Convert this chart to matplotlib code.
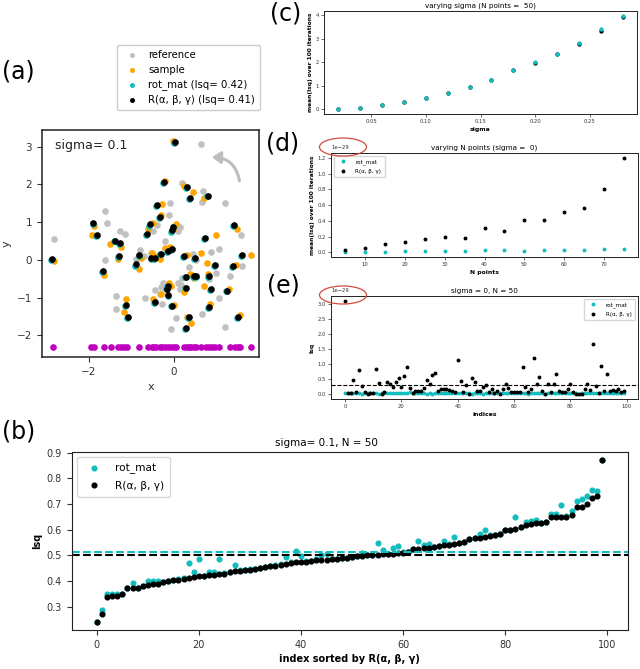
import numpy as np
import matplotlib
matplotlib.use("Agg")
import matplotlib.pyplot as plt
from matplotlib.patches import Ellipse, FancyArrowPatch

# ---------------- panel (a): point clouds ----------------
ref_x = [-2.81, -1.63, -1.58, -1.63, -1.26, -1.15, -1.37, -1.37, -0.90, -0.79,
         -0.68, -0.49, -0.39, -0.10, -0.12, 0.10, 0.15, 0.19, 0.64, 0.69,
         0.67, 1.19, 1.57, 0.87, 1.60, 1.33, 0.99, 0.83, 0.18, 0.16,
         -0.30, -0.25, -0.32, -0.29, 0.15, 1.07, 0.05, -0.06, 0.67, 1.19,
         0.52, -0.55, 0.45, -0.05, 0.10, -0.20, 1.05, 0.35, -0.70, -0.45]
ref_y = [0.55, 1.30, 0.99, 0.00, 0.77, 0.68, -0.95, -1.29, 0.03, 0.26,
         -1.00, 0.77, 0.93, 1.51, 1.19, 0.77, 0.86, 2.05, 3.06, 1.83,
         1.54, 1.50, 0.66, 0.20, -0.15, -0.42, -0.34, -0.50, -0.49, -0.67,
         -0.72, -0.61, -0.89, -1.17, -0.77, -1.02, -1.55, -1.82, -1.42, -1.78,
         0.00, 0.18, 0.15, 0.30, -0.60, 0.50, 0.30, -0.20, 0.10, -0.80]

sample_x = [-2.82, -1.88, -1.93, -1.65, -1.50, -1.24, -1.32, -1.13, -1.17, -0.81,
            -0.78, -0.62, -0.49, -0.52, -0.40, -0.50, -0.28, -0.30, -0.33, -0.21,
            -0.20, 0.00, -0.08, 0.04, -0.07, -0.12, -0.30, 0.00, -0.03, 0.30,
            0.38, 0.23, 0.23, 0.45, 0.42, 0.47, 0.64, 0.30, 0.40, 0.98,
            0.70, 0.81, 0.71, 0.84, 0.78, 1.30, 1.46, 1.48, 1.82, 1.55]
sample_y = [-0.04, 0.91, 0.66, -0.41, 0.41, 0.35, 0.03, -1.04, -1.39, -0.23,
            0.04, 0.82, 0.97, 0.19, 0.10, -1.04, 1.48, 1.19, 0.03, 2.08,
            0.32, 0.85, 0.33, 0.94, -0.69, -0.62, -0.91, -1.19, 3.15, 0.14,
            -0.38, -0.84, 1.97, 1.80, -0.39, -0.48, 0.19, -1.52, -1.67, 0.66,
            1.65, -0.36, -0.69, -1.18, -0.09, -0.78, -0.14, 0.83, 0.12, -1.47]

rotmat_x = [-2.88, -1.91, -1.82, -1.68, -1.41, -1.28, -1.31, -1.15, -1.10, -0.91,
            -0.83, -0.65, -0.59, -0.55, -0.46, -0.47, -0.41, -0.35, -0.32, -0.25,
            -0.16, -0.07, -0.06, -0.03, -0.16, -0.18, -0.15, -0.06, 0.01, 0.22,
            0.26, 0.27, 0.29, 0.35, 0.46, 0.51, 0.48, 0.33, 0.26, 0.71,
            0.78, 0.81, 0.86, 0.81, 0.95, 1.22, 1.36, 1.40, 1.58, 1.48]
rotmat_y = [0.00, 0.94, 0.64, -0.33, 0.49, 0.42, 0.08, -1.22, -1.55, -0.15,
            0.10, 0.66, 0.91, 0.03, 0.03, -1.13, 1.44, 1.10, 0.15, 2.04,
            0.21, 0.75, 0.27, 0.86, -0.71, -0.78, -0.96, -1.23, 3.10, 0.08,
            -0.46, -0.75, 1.91, 1.62, -0.45, -0.45, 0.03, -1.54, -1.83, 0.55,
            1.68, -0.45, -0.80, -1.27, -0.16, -0.83, -0.19, 0.90, 0.10, -1.55]

euler_x = [-2.865, -1.897, -1.80, -1.66, -1.39, -1.26, -1.29, -1.135, -1.08, -0.89,
           -0.81, -0.63, -0.57, -0.53, -0.44, -0.45, -0.39, -0.33, -0.30, -0.23,
           -0.14, -0.055, -0.04, -0.016, -0.14, -0.16, -0.13, -0.04, 0.03, 0.24,
           0.28, 0.29, 0.31, 0.37, 0.48, 0.53, 0.50, 0.35, 0.28, 0.73,
           0.80, 0.83, 0.88, 0.83, 0.97, 1.24, 1.38, 1.42, 1.60, 1.50]
euler_y = [0.03, 0.97, 0.67, -0.30, 0.51, 0.45, 0.11, -1.19, -1.52, -0.12,
           0.12, 0.69, 0.94, 0.05, 0.05, -1.11, 1.46, 1.13, 0.17, 2.06,
           0.23, 0.78, 0.29, 0.88, -0.69, -0.76, -0.94, -1.21, 3.12, 0.10,
           -0.44, -0.73, 1.93, 1.65, -0.43, -0.43, 0.05, -1.52, -1.81, 0.57,
           1.70, -0.43, -0.78, -1.25, -0.14, -0.81, -0.17, 0.93, 0.12, -1.52]

proj_x = [-2.83, -1.94, -1.88, -1.64, -1.49, -1.32, -1.25, -1.18, -1.10, -0.82,
          -0.60, -0.52, -0.47, -0.43, -0.32, -0.27, -0.21, -0.13, -0.06, 0.00,
          0.05, 0.24, 0.30, 0.35, 0.41, 0.48, 0.52, 0.64, 0.76, 0.83,
          0.89, 0.96, 1.06, 1.32, 1.44, 1.50, 1.56, 1.82]
PROJ_Y = -2.3
SIGMA_A = 0.1
LSQ_ROT_A = 0.42
LSQ_EUL_A = 0.41

# ---------------- panel (b): sorted lsq, sigma=0.1 ----------------
b_euler = [0.240, 0.271, 0.337, 0.340, 0.341, 0.348, 0.371, 0.371, 0.371, 0.379,
           0.383, 0.387, 0.387, 0.395, 0.400, 0.402, 0.405, 0.408, 0.411, 0.417,
           0.419, 0.420, 0.422, 0.424, 0.426, 0.428, 0.435, 0.439, 0.440, 0.441,
           0.444, 0.446, 0.449, 0.455, 0.458, 0.460, 0.464, 0.468, 0.471, 0.472,
           0.474, 0.475, 0.477, 0.480, 0.481, 0.483, 0.484, 0.485, 0.488, 0.489,
           0.494, 0.497, 0.498, 0.500, 0.502, 0.503, 0.505, 0.506, 0.507, 0.510,
           0.511, 0.512, 0.523, 0.525, 0.528, 0.530, 0.533, 0.536, 0.540, 0.542,
           0.546, 0.549, 0.551, 0.564, 0.566, 0.568, 0.573, 0.577, 0.579, 0.582,
           0.598, 0.599, 0.602, 0.611, 0.619, 0.623, 0.625, 0.627, 0.629, 0.650,
           0.650, 0.650, 0.651, 0.656, 0.689, 0.689, 0.700, 0.722, 0.730, 0.873]
b_rot = [0.241, 0.288, 0.348, 0.347, 0.349, 0.349, 0.371, 0.393, 0.372, 0.380,
         0.400, 0.398, 0.400, 0.396, 0.401, 0.403, 0.406, 0.410, 0.471, 0.433,
         0.485, 0.421, 0.436, 0.436, 0.484, 0.429, 0.436, 0.462, 0.441, 0.442,
         0.445, 0.447, 0.450, 0.456, 0.459, 0.461, 0.465, 0.492, 0.472, 0.518,
         0.496, 0.476, 0.478, 0.485, 0.503, 0.507, 0.485, 0.486, 0.489, 0.490,
         0.495, 0.498, 0.511, 0.501, 0.503, 0.549, 0.520, 0.507, 0.530, 0.536,
         0.514, 0.513, 0.524, 0.554, 0.540, 0.545, 0.534, 0.537, 0.554, 0.543,
         0.571, 0.550, 0.552, 0.565, 0.567, 0.582, 0.600, 0.578, 0.580, 0.583,
         0.599, 0.600, 0.650, 0.612, 0.629, 0.633, 0.638, 0.628, 0.630, 0.660,
         0.661, 0.695, 0.652, 0.675, 0.711, 0.718, 0.733, 0.756, 0.751, 0.873]
B_ROT_MEAN = 0.512
B_EUL_MEAN = 0.500

# ---------------- panel (c): varying sigma ----------------
c_sigma = [0.02, 0.04, 0.06, 0.08, 0.10, 0.12, 0.14, 0.16, 0.18, 0.20, 0.22, 0.24, 0.26, 0.28]
c_rot = [0.00, 0.07, 0.17, 0.30, 0.48, 0.71, 0.94, 1.26, 1.66, 1.99, 2.36, 2.81, 3.39, 3.97]
c_euler = [0.00, 0.07, 0.17, 0.30, 0.48, 0.71, 0.94, 1.25, 1.65, 1.97, 2.33, 2.77, 3.32, 3.90]

# ---------------- panel (d): varying N points (x 1e-29) ----------------
d_npts = [5, 10, 15, 20, 25, 30, 35, 40, 45, 50, 55, 60, 65, 70, 75]
d_rot = [0.000, 0.004, 0.009, 0.013, 0.017, 0.017, 0.020, 0.026, 0.026, 0.022,
         0.030, 0.034, 0.034, 0.039, 0.039]
d_euler = [0.034, 0.056, 0.099, 0.129, 0.171, 0.193, 0.176, 0.304, 0.270, 0.410,
           0.410, 0.514, 0.561, 0.800, 1.204]

# ---------------- panel (e): sigma=0, N=50 (x 1e-29) ----------------
e_rot = [0.05, 0.03, 0.04, 0.05, 0.03, 0.04, 0.02, 0.03, 0.04, 0.05,
         0.04, 0.03, 0.02, 0.04, 0.05, 0.06, 0.04, 0.03, 0.05, 0.04,
         0.06, 0.05, 0.04, 0.07, 0.05, 0.04, 0.03, 0.04, 0.03, 0.02,
         0.03, 0.02, 0.03, 0.04, 0.05, 0.06, 0.05, 0.04, 0.03, 0.05,
         0.04, 0.06, 0.05, 0.04, 0.03, 0.02, 0.04, 0.05, 0.03, 0.02,
         0.04, 0.03, 0.05, 0.06, 0.04, 0.03, 0.05, 0.04, 0.06, 0.05,
         0.04, 0.03, 0.05, 0.04, 0.03, 0.02, 0.04, 0.05, 0.06, 0.04,
         0.03, 0.02, 0.03, 0.05, 0.04, 0.06, 0.05, 0.04, 0.03, 0.04,
         0.05, 0.04, 0.03, 0.02, 0.04, 0.05, 0.03, 0.04, 0.05, 0.03,
         0.04, 0.06, 0.05, 0.04, 0.03, 0.05, 0.04, 0.03, 0.05, 0.04]
e_euler = [3.10, 0.03, 0.03, 0.49, 0.09, 0.80, 0.27, 0.08, 0.02, 0.03,
           0.03, 0.85, 0.38, 0.01, 0.09, 0.42, 0.35, 0.25, 0.41, 0.55,
           0.23, 0.60, 0.92, 0.21, 0.06, 0.11, 0.11, 0.11, 0.21, 0.47,
           0.34, 0.65, 0.69, 0.12, 0.19, 0.18, 0.16, 0.13, 0.12, 0.08,
           1.12, 0.44, 0.08, 0.30, 0.02, 0.53, 0.42, 0.12, 0.10, 0.23,
           0.31, 0.08, 0.18, 0.04, 0.11, 0.00, 0.16, 0.33, 0.20, 0.09,
           0.08, 0.08, 0.08, 0.92, 0.25, 0.07, 0.19, 1.20, 0.34, 0.56,
           0.11, 0.01, 0.35, 0.07, 0.35, 0.66, 0.12, 0.08, 0.07, 0.18,
           0.33, 0.08, 0.02, 0.02, 0.01, 0.19, 0.33, 0.14, 1.68, 0.28,
           0.03, 0.95, 0.11, 0.68, 0.10, 0.13, 0.10, 0.17, 0.07, 0.11]
E_EUL_MEAN = 0.31
SCALE = 1e-29

CYAN = "#13bdbd"
W, H = 640, 669

fig = plt.figure(figsize=(6.4, 6.69), dpi=100)


def px_axes(left, top, right, bottom):
    return fig.add_axes([left / W, 1 - bottom / H, (right - left) / W, (bottom - top) / H])


def small_style(ax):
    ax.tick_params(labelsize=3.8, length=2, width=0.5, pad=1.5, colors="#333333")
    for s in ax.spines.values():
        s.set_linewidth(0.7)
        s.set_color("#222222")


# ---- (a) ----
ax_a = px_axes(42, 130, 259, 357)
ms_a = 23
ax_a.scatter(ref_x, ref_y, s=ms_a, c="#c0c0c0", lw=0, label="reference")
ax_a.scatter(sample_x, sample_y, s=ms_a, c="orange", lw=0, label="sample")
ax_a.scatter(rotmat_x, rotmat_y, s=ms_a, c=CYAN, lw=0, label="rot_mat (lsq= %.2f)" % LSQ_ROT_A)
ax_a.scatter(euler_x, euler_y, s=ms_a, c="k", lw=0, label="R(α, β, γ) (lsq= %.2f)" % LSQ_EUL_A)
ax_a.scatter(proj_x, [PROJ_Y] * len(proj_x), s=ms_a, c="m", lw=0)
ax_a.set_xlim(-3.1, 2.0)
ax_a.set_ylim(-2.57, 3.44)
ax_a.set_xticks([-2, 0])
ax_a.set_yticks([-2, -1, 0, 1, 2, 3])
ax_a.tick_params(labelsize=7.5, colors="#333333", length=3.5)
for s in ax_a.spines.values():
    s.set_linewidth(1.1)
    s.set_color("#222222")
ax_a.set_xlabel("x", fontsize=8, color="#333333")
ax_a.set_ylabel("y", fontsize=8, color="#333333")
ax_a.text(0.06, 0.93, "sigma= %g" % SIGMA_A, transform=ax_a.transAxes, fontsize=9,
          va="center", color="#222222")
arrow = FancyArrowPatch((1.55, 2.02), (0.83, 2.72), connectionstyle="arc3,rad=0.45",
                        arrowstyle="-|>,head_length=5,head_width=3.5", color="#bdbdbd", lw=2.2)
ax_a.add_patch(arrow)
fig.legend(*ax_a.get_legend_handles_labels(), loc="upper left",
           bbox_to_anchor=(117 / W, 1 - 45 / H), borderaxespad=0, fontsize=7.3,
           markerscale=0.75, handletextpad=0.6, borderpad=0.5, labelspacing=0.45,
           framealpha=1, edgecolor="#cccccc", fancybox=True)

# ---- (b) ----
ax_b = px_axes(71.5, 451.7, 627.5, 630)
idx_b = np.arange(len(b_euler))
ax_b.plot(idx_b, b_rot, "o", color=CYAN, ms=3.4, label="rot_mat")
ax_b.plot(idx_b, b_euler, "o", color="k", ms=3.4, label="R(α, β, γ)")
ax_b.axhline(B_ROT_MEAN, color=CYAN, ls="--", lw=1.5)
ax_b.axhline(B_EUL_MEAN, color="k", ls="--", lw=1.5)
ax_b.set_xticks([0, 20, 40, 60, 80, 100])
ax_b.set_yticks([0.3, 0.4, 0.5, 0.6, 0.7, 0.8, 0.9])
ax_b.tick_params(labelsize=7, colors="#333333")
ax_b.set_title("sigma= 0.1, N = 50", fontsize=7.5, pad=4, x=0.458)
ax_b.set_xlabel("index sorted by R(α, β, γ)", fontsize=7, fontweight="bold", labelpad=3)
ax_b.set_ylabel("lsq", fontsize=7, fontweight="bold", labelpad=3)
ax_b.legend(loc="upper left", fontsize=7.6, markerscale=1.0, handletextpad=1.0,
            borderpad=0.6, labelspacing=0.6, edgecolor="#cccccc")
for s in ax_b.spines.values():
    s.set_color("#222222")

# ---- (c) ----
ax_c = px_axes(324, 11, 637, 114)
ax_c.plot(c_sigma, c_euler, "o", color="k", ms=2.1)
ax_c.plot(c_sigma, c_rot, "o", color=CYAN, ms=2.1)
ax_c.set_xticks([0.05, 0.10, 0.15, 0.20, 0.25])
ax_c.set_yticks([0, 1, 2, 3, 4])
small_style(ax_c)
ax_c.set_title("varying sigma (N points =  50)", fontsize=5.2, pad=2.5)
ax_c.set_xlabel("sigma", fontsize=4.4, fontweight="bold", labelpad=2)
ax_c.set_ylabel("mean(lsq) over 100 iterations", fontsize=4.2, fontweight="bold", labelpad=2)

# ---- (d) ----
ax_d = px_axes(331, 153, 638, 257)
ax_d.plot(d_npts, np.array(d_rot) * SCALE, "o", color=CYAN, ms=1.8, label="rot_mat")
ax_d.plot(d_npts, np.array(d_euler) * SCALE, "o", color="k", ms=1.8, label="R(α, β, γ)")
ax_d.set_xticks([10, 20, 30, 40, 50, 60, 70])
ax_d.set_yticks(np.array([0.0, 0.2, 0.4, 0.6, 0.8, 1.0, 1.2]) * SCALE)
small_style(ax_d)
ax_d.yaxis.get_offset_text().set_fontsize(3.8)
ax_d.set_title("varying N points (sigma =  0)", fontsize=5.2, pad=2.5)
ax_d.set_xlabel("N points", fontsize=4.4, fontweight="bold", labelpad=2)
ax_d.set_ylabel("mean(lsq) over 100 iterations", fontsize=4.2, fontweight="bold", labelpad=2)
ax_d.legend(loc="upper left", fontsize=4.1, markerscale=1.0, handletextpad=1.2,
            borderpad=0.6, labelspacing=0.7, edgecolor="#cccccc")

# ---- (e) ----
ax_e = px_axes(331, 296, 638, 399)
idx_e = np.arange(len(e_euler))
ax_e.plot(idx_e, np.array(e_rot) * SCALE, "o", color=CYAN, ms=1.8, label="rot_mat")
ax_e.plot(idx_e, np.array(e_euler) * SCALE, "o", color="k", ms=1.8, label="R(α, β, γ)")
ax_e.axhline(E_EUL_MEAN * SCALE, color="k", ls="--", lw=0.8)
ax_e.set_xticks([0, 20, 40, 60, 80, 100])
ax_e.set_yticks(np.array([0.0, 0.5, 1.0, 1.5, 2.0, 2.5, 3.0]) * SCALE)
small_style(ax_e)
ax_e.yaxis.get_offset_text().set_fontsize(3.8)
ax_e.set_title("sigma = 0, N = 50", fontsize=5.2, pad=2.5)
ax_e.set_xlabel("indices", fontsize=4.4, fontweight="bold", labelpad=2)
ax_e.set_ylabel("lsq", fontsize=4.4, fontweight="bold", labelpad=2)
ax_e.legend(loc="upper right", fontsize=4.1, markerscale=1.0, handletextpad=1.2,
            borderpad=0.6, labelspacing=0.7, edgecolor="#cccccc")

# red circles round the offset text
for cy in (147, 295):
    fig.add_artist(Ellipse((343 / W, 1 - cy / H), 47 / W, 18 / H, transform=fig.transFigure,
                           fill=False, edgecolor="#d24a3c", lw=0.9))

# panel letters
for lab, x, y in [("(a)", 2, 72), ("(b)", 2, 431), ("(c)", 270, 13),
                  ("(d)", 266, 144), ("(e)", 267, 286)]:
    fig.text(x / W, 1 - y / H, lab, fontsize=17, va="center", ha="left")

fig.savefig("out.png", dpi=100)
